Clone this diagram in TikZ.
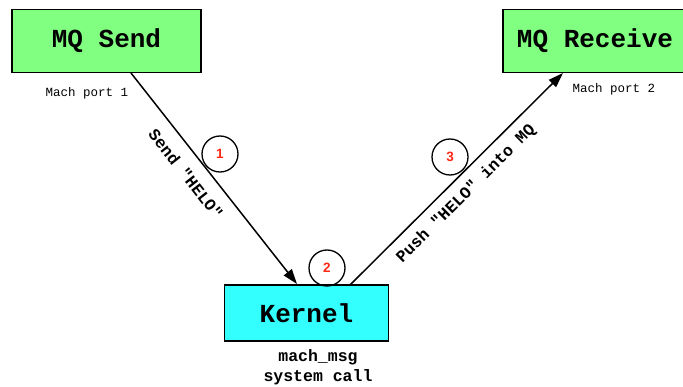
\documentclass[tikz,border=0pt]{standalone}
\usepackage{fontspec}
\newfontfamily\cour{Liberation Mono}
\newfontfamily\arialf{Liberation Sans}
\usetikzlibrary{arrows.meta}
\definecolor{boxgreen}{RGB}{128,255,128}
\definecolor{boxcyan}{RGB}{51,255,255}
\definecolor{numred}{RGB}{255,40,20}
\begin{document}
\begin{tikzpicture}[x=1pt,y=-1pt,
  procbox/.style={draw=black,line width=1.5pt,inner sep=0pt,
    font=\cour\bfseries\fontsize{26}{28}\selectfont},
  portlbl/.style={font=\cour\fontsize{12.5}{14}\selectfont},
  edgelbl/.style={font=\cour\bfseries\fontsize{16.5}{18}\selectfont,inner sep=0pt},
  stepnum/.style={draw=black,circle,line width=1.3pt,minimum size=36pt,inner sep=0pt,
    text=numred,font=\arialf\bfseries\fontsize{13.5}{14}\selectfont},
  conn/.style={line width=1.5pt,-{Triangle[length=15pt,width=10pt]}}]
\useasboundingbox (0,0) rectangle (683,387);
\fill[white] (0,0) rectangle (683,387);
% boxes
\node[procbox,fill=boxgreen,minimum width=189pt,minimum height=63pt] (send) at (106.5,41) {MQ Send};
\node[procbox,fill=boxgreen,minimum width=200pt,minimum height=63pt,anchor=west] (recv) at (502,41) {};
\node[font=\cour\bfseries\fontsize{26}{28}\selectfont] (recvtxt) at (595,41) {MQ Receive};
\node[procbox,fill=boxcyan,minimum width=164pt,minimum height=56pt] (kern) at (306.5,313) {Kernel};
% port labels
\node[portlbl] (p1) at (87,93) {Mach port 1};
\node[portlbl] (p2) at (614,89) {Mach port 2};
% syscall label
\node[font=\cour\bfseries\fontsize{16.5}{20}\selectfont,align=center] (sys) at (318,367) {mach\_msg\\system call};
% connection anchors
\coordinate (a1) at (131,73);
\coordinate (b1) at (297,284);
\coordinate (a2) at (350,285);
\coordinate (b2) at (563,73);
\draw[conn] (a1) -- (b1);
\draw[conn] (a2) -- (b2);
% edge labels
\node[edgelbl,rotate=-51.8] (l1) at (186,174) {Send "HELO"};
\node[edgelbl,rotate=44.8] (l2) at (466,194) {Push "HELO" into MQ};
% step circles
\node[stepnum] (n1) at (220,154) {1};
\node[stepnum] (n2) at (327,268) {2};
\node[stepnum] (n3) at (450,157) {3};
\end{tikzpicture}
\end{document}
